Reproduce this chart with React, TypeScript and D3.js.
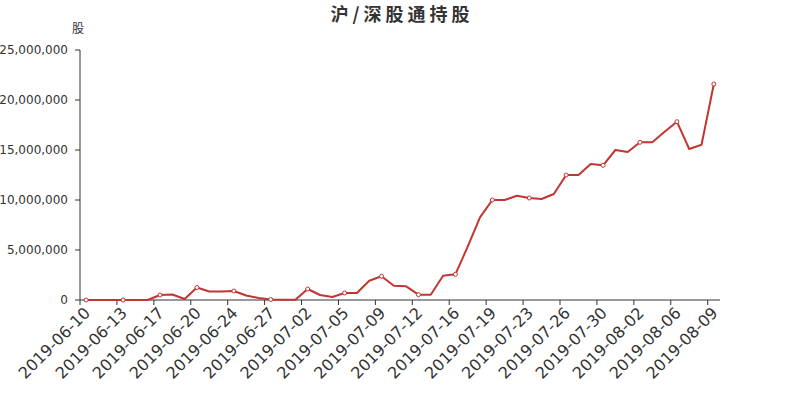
import React from "react";
import * as d3 from "d3";

const dates = [
  "2019-06-10","2019-06-11","2019-06-12","2019-06-13","2019-06-14","2019-06-15",
  "2019-06-17","2019-06-18","2019-06-19","2019-06-20","2019-06-21","2019-06-22",
  "2019-06-24","2019-06-25","2019-06-26","2019-06-27","2019-06-28","2019-06-29",
  "2019-07-02","2019-07-03","2019-07-04","2019-07-05","2019-07-06","2019-07-08",
  "2019-07-09","2019-07-10","2019-07-11","2019-07-12","2019-07-13","2019-07-15",
  "2019-07-16","2019-07-17","2019-07-18","2019-07-19","2019-07-20","2019-07-22",
  "2019-07-23","2019-07-24","2019-07-25","2019-07-26","2019-07-27","2019-07-29",
  "2019-07-30","2019-07-31","2019-08-01","2019-08-02","2019-08-03","2019-08-05",
  "2019-08-06","2019-08-07","2019-08-08","2019-08-09",
];

const holdings = [
  0, 0, 0, 0, 0, 0,
  500000, 550000, 100000, 1250000, 850000, 850000,
  900000, 450000, 200000, 50000, 30000, 30000,
  1100000, 500000, 300000, 700000, 700000, 1930000,
  2370000, 1430000, 1370000, 530000, 530000, 2430000,
  2570000, 5330000, 8270000, 10000000, 10000000, 10430000,
  10200000, 10100000, 10600000, 12500000, 12500000, 13600000,
  13470000, 15000000, 14800000, 15770000, 15770000, 16830000,
  17830000, 15100000, 15530000, 21600000,
];

const yTicks = [0, 5000000, 10000000, 15000000, 20000000, 25000000];

const title = "沪/深股通持股";
const yName = "股";

const W = 800, H = 400;
const left = 80, right = 720, top = 50, bottom = 300;
const labelEvery = 3;
const lineColor = "#c23531";
const axisColor = "#333";
const font = "'DejaVu Sans', sans-serif";

export default function App() {
  const x = d3.scaleBand<string>().domain(dates).range([left, right]).padding(0);
  const y = d3.scaleLinear().domain([0, 25000000]).range([bottom, top]);
  const cx = (d: string) => (x(d) as number) + x.bandwidth() / 2;
  const fmt = d3.format(",");

  const line = d3
    .line<number>()
    .x((_, i) => cx(dates[i]))
    .y((v) => y(v));

  const labeled = dates.map((d, i) => ({ d, i })).filter((o) => o.i % labelEvery === 0);

  return (
    <svg width={W} height={H} style={{ display: "block", position: "absolute", left: 0, top: 0 }}>
      <rect width={W} height={H} fill="#fff" />
      <text
        x={W / 2 + 2}
        y={21}
        textAnchor="middle"
        fontSize={18}
        fontWeight="bold"
        letterSpacing={4}
        fill={axisColor}
        fontFamily="'Noto Sans CJK SC', sans-serif"
      >
        {title}
      </text>
      {/* y axis */}
      <line x1={left} x2={left} y1={top} y2={bottom} stroke={axisColor} />
      <text x={left - 2} y={top - 17} textAnchor="middle" fontSize={12} fill={axisColor} fontFamily="'Noto Sans CJK SC', sans-serif">
        {yName}
      </text>
      {yTicks.map((t) => (
        <g key={t}>
          <line x1={left - 5} x2={left} y1={y(t)} y2={y(t)} stroke={axisColor} />
          <text x={left - 12} y={y(t)} dy="0.35em" textAnchor="end" fontSize={12} fill={axisColor} fontFamily={font}>
            {fmt(t)}
          </text>
        </g>
      ))}
      {/* x axis */}
      <line x1={left} x2={right} y1={bottom} y2={bottom} stroke={axisColor} />
      {labeled.map(({ d }) => (
        <g key={d}>
          <line x1={x(d)} x2={x(d)} y1={bottom} y2={bottom + 5} stroke={axisColor} />
          <text
            transform={`translate(${cx(d) + 1},${bottom + 10}) rotate(-45)`}
            textAnchor="end"
            dy="0.35em"
            fontSize={16}
            fill={axisColor}
            fontFamily={font}
          >
            {d}
          </text>
        </g>
      ))}
      <path d={line(holdings) || ""} fill="none" stroke={lineColor} strokeWidth={2} strokeLinejoin="round" />
      {labeled.map(({ d, i }) => (
        <circle key={d} cx={cx(d)} cy={y(holdings[i])} r={2} fill="#fff" stroke={lineColor} strokeWidth={1} />
      ))}
    </svg>
  );
}
